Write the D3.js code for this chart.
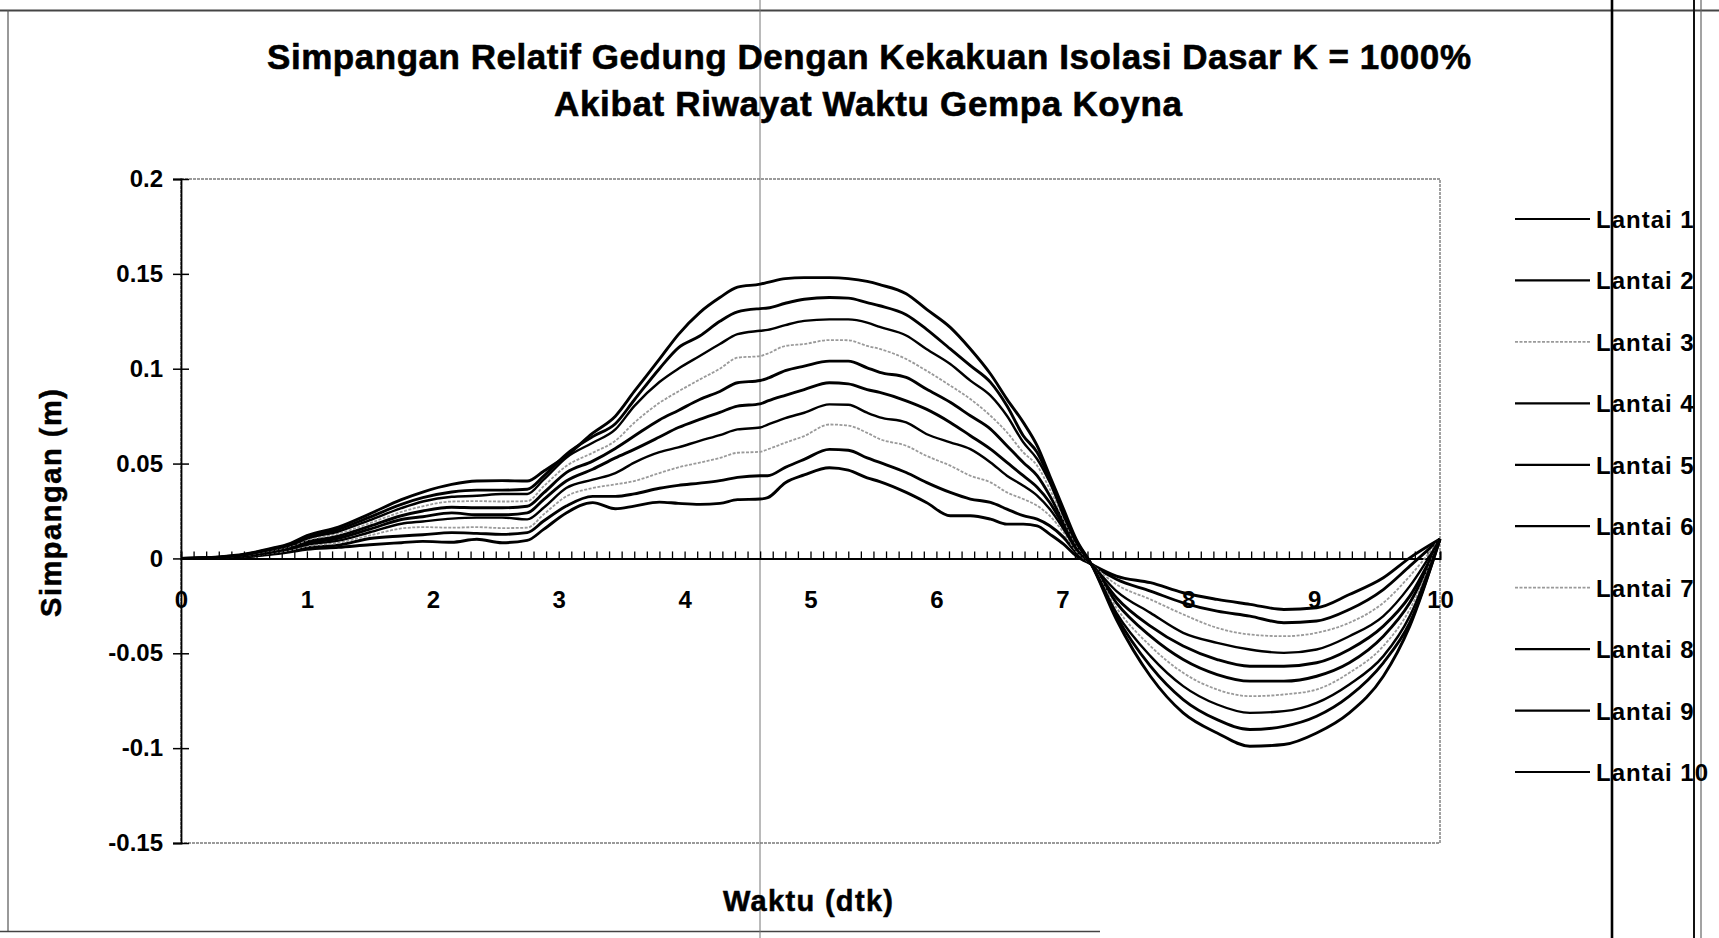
<!DOCTYPE html>
<html>
<head>
<meta charset="utf-8">
<script src="https://cdn.jsdelivr.net/npm/d3@7"></script>
<style>
  html, body { margin: 0; padding: 0; background: #fff; }
  svg { display: block; }
  text { font-family: "Liberation Sans", Arial, sans-serif; fill: #000; }
</style>
</head>
<body>
<svg id="chart" width="1719" height="938"></svg>
<script>
// ---------------- DATA ----------------
const titleLines = ["Simpangan Relatif Gedung Dengan Kekakuan Isolasi Dasar K = 1000%",
                    "Akibat Riwayat Waktu Gempa Koyna"];
const xTitle = "Waktu (dtk)";
const yTitle = "Simpangan (m)";

const times = [0, 0.3, 0.5, 0.7, 0.87, 1.0, 1.25, 1.5, 1.75, 1.92, 2.15, 2.35, 2.55, 2.75, 2.88,
  3.06, 3.27, 3.45, 3.6, 3.8, 3.95, 4.12, 4.28, 4.42, 4.6, 4.66, 4.8, 4.95, 5.15, 5.3, 5.45,
  5.55, 5.76, 5.92, 6.11, 6.27, 6.43, 6.56, 6.69, 6.8, 6.9, 7.01, 7.11, 7.23, 7.43, 7.7,
  7.96, 8.23, 8.49, 8.76, 9.02, 9.28, 9.55, 9.76, 10];

const lantai1 = [0, 0.0003, 0.0008, 0.002, 0.0035, 0.0048, 0.0058, 0.0072, 0.0083, 0.009, 0.0085, 0.0101, 0.0083, 0.0095, 0.0153,
  0.024, 0.0294, 0.0262, 0.0276, 0.0297, 0.029, 0.0285, 0.029, 0.031, 0.0313, 0.032, 0.0399, 0.044, 0.0478, 0.0465, 0.0425,
  0.0405, 0.0348, 0.0295, 0.0225, 0.0225, 0.0207, 0.0181, 0.0181, 0.0172, 0.0128, 0.0075, 0.0014, -0.003, -0.0093, -0.0128,
  -0.0181, -0.0216, -0.0242, -0.0269, -0.026, -0.019, -0.0102, 0.0003, 0.0102];
const lantai2 = [0, 0.0003, 0.0009, 0.0024, 0.004, 0.0056, 0.007, 0.0105, 0.0118, 0.0125, 0.0136, 0.0132, 0.0127, 0.0136, 0.0197,
  0.0276, 0.0327, 0.0327, 0.034, 0.037, 0.0385, 0.0397, 0.041, 0.0427, 0.0436, 0.0436, 0.048, 0.0522, 0.0575, 0.057, 0.053,
  0.0506, 0.0453, 0.0401, 0.0348, 0.0313, 0.0295, 0.026, 0.0225, 0.0207, 0.0172, 0.0111, 0.0032, -0.003, -0.011, -0.0172,
  -0.0234, -0.0278, -0.0304, -0.0339, -0.033, -0.0269, -0.0164, -0.0041, 0.0102];
const lantai3 = [0, 0.0004, 0.0011, 0.0027, 0.0045, 0.0064, 0.0082, 0.0121, 0.0158, 0.0165, 0.0162, 0.0165, 0.016, 0.0162, 0.0232,
  0.0327, 0.0371, 0.039, 0.0408, 0.045, 0.048, 0.0505, 0.053, 0.0557, 0.0562, 0.0575, 0.061, 0.0645, 0.0706, 0.07, 0.0662,
  0.0629, 0.0594, 0.0541, 0.0489, 0.0436, 0.0401, 0.0348, 0.0313, 0.0278, 0.0225, 0.0137, 0.004, -0.003, -0.0137, -0.0216,
  -0.0295, -0.0366, -0.0401, -0.041, -0.0392, -0.0339, -0.0234, -0.0093, 0.0102];
const lantai4 = [0, 0.0004, 0.0012, 0.003, 0.005, 0.0072, 0.0094, 0.0138, 0.0183, 0.0195, 0.021, 0.0215, 0.0215, 0.0206, 0.0267,
  0.0371, 0.0415, 0.045, 0.0505, 0.056, 0.0585, 0.062, 0.065, 0.068, 0.069, 0.0705, 0.074, 0.0768, 0.0812, 0.081, 0.0768,
  0.0744, 0.0717, 0.0656, 0.0612, 0.0576, 0.0506, 0.0436, 0.0383, 0.0331, 0.026, 0.0155, 0.0049, -0.003, -0.0172, -0.0287,
  -0.0392, -0.0445, -0.048, -0.0498, -0.048, -0.041, -0.0304, -0.0146, 0.0102];
const lantai5 = [0, 0.0005, 0.0014, 0.0034, 0.0055, 0.008, 0.0106, 0.0154, 0.0205, 0.022, 0.024, 0.023, 0.023, 0.024, 0.031,
  0.0408, 0.047, 0.053, 0.0575, 0.064, 0.069, 0.0733, 0.077, 0.0803, 0.0815, 0.083, 0.086, 0.089, 0.0926, 0.092, 0.089,
  0.0875, 0.0831, 0.0787, 0.0717, 0.0647, 0.0576, 0.0506, 0.0436, 0.0375, 0.0295, 0.0172, 0.0058, -0.003, -0.0207, -0.0357,
  -0.0462, -0.0533, -0.0568, -0.0568, -0.055, -0.048, -0.0357, -0.0199, 0.0102];
const lantai6 = [0, 0.0005, 0.0015, 0.0037, 0.006, 0.0088, 0.0118, 0.017, 0.0225, 0.025, 0.027, 0.0267, 0.0267, 0.0275, 0.0345,
  0.0452, 0.0513, 0.058, 0.0645, 0.073, 0.078, 0.0838, 0.088, 0.0926, 0.0938, 0.095, 0.099, 0.1014, 0.104, 0.104, 0.1005,
  0.0981, 0.0954, 0.0893, 0.0823, 0.0752, 0.0682, 0.0594, 0.0506, 0.0436, 0.0331, 0.019, 0.0066, -0.003, -0.0234, -0.041,
  -0.0533, -0.0612, -0.0647, -0.0647, -0.0621, -0.055, -0.041, -0.0234, 0.0102];
const lantai7 = [0, 0.0006, 0.0017, 0.004, 0.0065, 0.0096, 0.013, 0.0186, 0.0245, 0.0275, 0.03, 0.0302, 0.03, 0.0302, 0.038,
  0.0487, 0.0557, 0.062, 0.0715, 0.082, 0.088, 0.0943, 0.1, 0.1058, 0.1067, 0.108, 0.112, 0.113, 0.1151, 0.115, 0.112,
  0.1104, 0.1051, 0.099, 0.0911, 0.084, 0.0752, 0.0665, 0.0559, 0.0489, 0.0366, 0.0207, 0.0075, -0.003, -0.026, -0.0462,
  -0.0603, -0.0691, -0.0726, -0.0717, -0.0691, -0.0603, -0.0462, -0.0269, 0.0102];
const lantai8 = [0, 0.0006, 0.0018, 0.0044, 0.007, 0.0104, 0.0142, 0.0202, 0.0265, 0.03, 0.0325, 0.033, 0.034, 0.034, 0.0415,
  0.0531, 0.061, 0.068, 0.0803, 0.093, 0.1, 0.1067, 0.113, 0.1182, 0.12, 0.1205, 0.123, 0.1252, 0.126, 0.126, 0.1243,
  0.122, 0.1175, 0.1104, 0.1025, 0.0937, 0.0858, 0.0752, 0.0612, 0.0524, 0.0401, 0.0225, 0.0084, -0.003, -0.0287, -0.0515,
  -0.0673, -0.077, -0.0814, -0.0805, -0.0761, -0.0664, -0.0515, -0.0304, 0.0102];
const lantai9 = [0, 0.0007, 0.002, 0.0047, 0.0075, 0.0112, 0.0153, 0.0218, 0.0285, 0.032, 0.035, 0.036, 0.036, 0.0365, 0.0434,
  0.0549, 0.0642, 0.071, 0.0835, 0.1, 0.111, 0.1172, 0.125, 0.13, 0.1317, 0.132, 0.1345, 0.1366, 0.1375, 0.1372, 0.1348,
  0.1332, 0.1285, 0.1209, 0.1104, 0.1016, 0.0928, 0.0805, 0.0647, 0.0559, 0.0419, 0.0243, 0.0093, -0.003, -0.0304, -0.0568,
  -0.0744, -0.085, -0.0902, -0.0885, -0.0832, -0.0726, -0.055, -0.0339, 0.0102];
const lantai10 = [0, 0.0008, 0.0022, 0.005, 0.008, 0.012, 0.0165, 0.0235, 0.031, 0.035, 0.039, 0.0408, 0.041, 0.0408, 0.046,
  0.054, 0.066, 0.075, 0.088, 0.105, 0.118, 0.1296, 0.1375, 0.143, 0.1446, 0.1455, 0.1475, 0.148, 0.148, 0.1475, 0.146,
  0.1443, 0.1395, 0.1314, 0.1218, 0.1104, 0.0972, 0.084, 0.0717, 0.0594, 0.0436, 0.026, 0.0102, -0.003, -0.0322, -0.0621,
  -0.0814, -0.092, -0.099, -0.0981, -0.092, -0.0814, -0.0621, -0.0357, 0.0102];

const seriesNames = ["Lantai 1", "Lantai 2", "Lantai 3", "Lantai 4", "Lantai 5",
                     "Lantai 6", "Lantai 7", "Lantai 8", "Lantai 9", "Lantai 10"];
const seriesValues = [lantai1, lantai2, lantai3, lantai4, lantai5, lantai6, lantai7, lantai8, lantai9, lantai10];

const xTickValues = [0, 1, 2, 3, 4, 5, 6, 7, 8, 9, 10];
const yTickValues = [-0.15, -0.1, -0.05, 0, 0.05, 0.1, 0.15, 0.2];
const yTickLabels = ["-0.15", "-0.1", "-0.05", "0", "0.05", "0.1", "0.15", "0.2"];

// ---------------- LAYOUT ----------------
const svg = d3.select("#chart");
const plot = { left: 181, right: 1440, top: 179, bottom: 843 };

const x = d3.scaleLinear().domain([0, 10]).range([plot.left, plot.right]);
const y = d3.scaleLinear().domain([-0.15, 0.2]).range([plot.bottom, plot.top]);

const isGray = i => (i === 2 || i === 6);
const strokeColor = i => isGray(i) ? "#9a9a9a" : "#000";
const strokeWidth = i => isGray(i) ? 1.8 : ((i === 3 || i === 7) ? 2.4 : 2.9);
const strokeDash = i => isGray(i) ? "3,1.5" : null;

// ---- scan frame decorations ----
const deco = svg.append("g").attr("class", "frame");
deco.append("line").attr("x1", 0).attr("x2", 1719).attr("y1", 10.5).attr("y2", 10.5)
  .attr("stroke", "#444").attr("stroke-width", 1.8);
deco.append("line").attr("x1", 8).attr("x2", 8).attr("y1", 10).attr("y2", 932)
  .attr("stroke", "#555").attr("stroke-width", 1.2);
deco.append("line").attr("x1", 0).attr("x2", 1100).attr("y1", 931.5).attr("y2", 931.5)
  .attr("stroke", "#444").attr("stroke-width", 1.6);
deco.append("line").attr("x1", 760).attr("x2", 760).attr("y1", 0).attr("y2", 938)
  .attr("stroke", "#777").attr("stroke-width", 1);
deco.append("line").attr("x1", 1612).attr("x2", 1612).attr("y1", 0).attr("y2", 938)
  .attr("stroke", "#000").attr("stroke-width", 2.6);
deco.append("line").attr("x1", 1694).attr("x2", 1694).attr("y1", 0).attr("y2", 938)
  .attr("stroke", "#111").attr("stroke-width", 2);
deco.append("line").attr("x1", 1701).attr("x2", 1701).attr("y1", 0).attr("y2", 938)
  .attr("stroke", "#666").attr("stroke-width", 1.2);

// ---- title ----
svg.append("text").attr("x", 869).attr("y", 69).attr("text-anchor", "middle")
  .attr("font-size", 35).attr("font-weight", "bold")
  .attr("stroke", "#000").attr("stroke-width", 0.6)
  .attr("textLength", 1204).attr("lengthAdjust", "spacing").text(titleLines[0]);
svg.append("text").attr("x", 868).attr("y", 116).attr("text-anchor", "middle")
  .attr("font-size", 35).attr("font-weight", "bold")
  .attr("stroke", "#000").attr("stroke-width", 0.6)
  .attr("textLength", 628).attr("lengthAdjust", "spacing").text(titleLines[1]);

// ---- plot border ----
svg.append("rect").attr("x", plot.left).attr("y", plot.top)
  .attr("width", plot.right - plot.left).attr("height", plot.bottom - plot.top)
  .attr("fill", "none").attr("stroke", "#7a7a7a").attr("stroke-width", 1.4)
  .attr("stroke-dasharray", "3,1");

// ---- y axis ----
const yAxis = svg.append("g").attr("transform", `translate(${plot.left},0)`)
  .call(d3.axisLeft(y).tickValues(yTickValues)
    .tickFormat((d, i) => yTickLabels[i]).tickSize(8).tickPadding(10));
yAxis.select(".domain").attr("stroke", "#000").attr("stroke-width", 1.8);
yAxis.selectAll(".tick line").attr("x1", 8).attr("stroke", "#000").attr("stroke-width", 1.5);
yAxis.selectAll(".tick text").attr("font-size", 24).attr("font-weight", "bold")
  .attr("font-family", "Liberation Sans, Arial, sans-serif");

// ---- x axis (at y = 0) ----
const x0 = y(0);
const minorTicks = d3.range(1, 101).map(i => i / 10);
const xMinor = svg.append("g").attr("transform", `translate(0,${x0})`)
  .call(d3.axisTop(x).tickValues(minorTicks).tickSize(7).tickFormat(""));
xMinor.select(".domain").attr("stroke", "#000").attr("stroke-width", 2);
xMinor.selectAll(".tick line").attr("stroke", "#000").attr("stroke-width", 1.3);

const xAxis = svg.append("g").attr("transform", `translate(0,${x0})`)
  .call(d3.axisBottom(x).tickValues(xTickValues).tickSize(0).tickPadding(33)
    .tickFormat(d3.format("d")));
xAxis.select(".domain").remove();
xAxis.selectAll(".tick text").attr("font-size", 24).attr("font-weight", "bold")
  .attr("font-family", "Liberation Sans, Arial, sans-serif");

// ---- axis titles ----
svg.append("text").attr("x", 808).attr("y", 911).attr("text-anchor", "middle")
  .attr("font-size", 29).attr("font-weight", "bold")
  .attr("stroke", "#000").attr("stroke-width", 0.5)
  .attr("textLength", 170).attr("lengthAdjust", "spacing").text(xTitle);
svg.append("text").attr("transform", "translate(61,503) rotate(-90)")
  .attr("text-anchor", "middle")
  .attr("font-size", 29).attr("font-weight", "bold")
  .attr("stroke", "#000").attr("stroke-width", 0.5)
  .attr("textLength", 228).attr("lengthAdjust", "spacing").text(yTitle);

// ---- series ----
const line = d3.line()
  .x((d, i) => x(times[i]))
  .y(d => y(d))
  .curve(d3.curveMonotoneX);

svg.append("g").selectAll("path")
  .data(seriesValues)
  .join("path")
  .attr("d", d => line(d))
  .attr("fill", "none")
  .attr("stroke", (d, i) => strokeColor(i))
  .attr("stroke-width", (d, i) => strokeWidth(i))
  .attr("stroke-dasharray", (d, i) => strokeDash(i))
  .attr("stroke-linejoin", "round");

// ---- legend ----
const legendY = d3.scaleLinear().domain([0, 9]).range([219, 772]);
const lg = svg.append("g").selectAll("g").data(seriesNames).join("g")
  .attr("transform", (d, i) => `translate(0,${legendY(i)})`);
lg.append("line").attr("x1", 1515).attr("x2", 1590).attr("y1", 0).attr("y2", 0)
  .attr("stroke", (d, i) => strokeColor(i))
  .attr("stroke-width", (d, i) => isGray(i) ? 1.6 : 2.2)
  .attr("stroke-dasharray", (d, i) => strokeDash(i));
lg.append("text").attr("x", 1596).attr("y", 9)
  .attr("font-size", 24).attr("font-weight", "bold").attr("letter-spacing", 1)
  .text(d => d);
</script>
</body>
</html>
